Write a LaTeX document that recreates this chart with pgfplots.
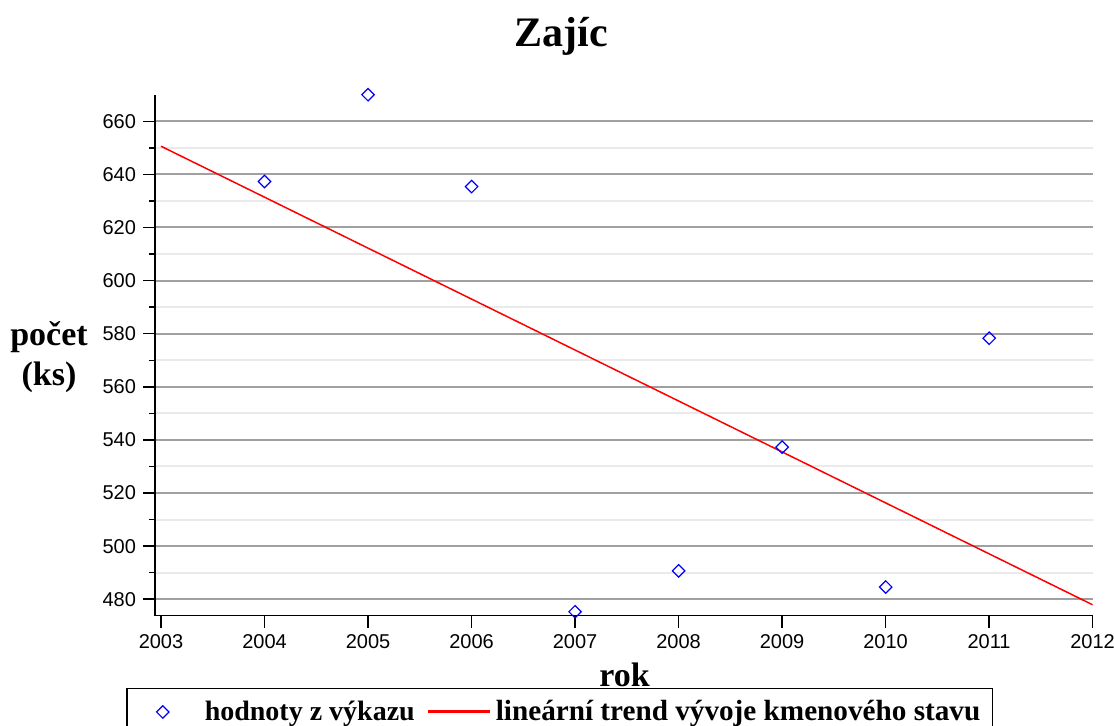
\documentclass[border=0pt]{standalone}
\usepackage{fontspec}
\setmainfont{Liberation Serif}
\setsansfont{Liberation Sans}
\usepackage{pgfplots}
\pgfplotsset{compat=1.18}
\definecolor{mkblue}{RGB}{0,0,255}
\definecolor{trendred}{RGB}{255,0,0}
\definecolor{majgrid}{RGB}{160,160,160}
\definecolor{mingrid}{RGB}{234,234,234}
\begin{document}
\begin{tikzpicture}
\begin{axis}[
  at={(77.5pt,54.65pt)}, anchor=south west,
  scale only axis, width=468.85pt, height=260.5pt,
  xmin=2002.942, xmax=2012, ymin=473.8, ymax=670,
  axis x line*=bottom, axis y line*=left,
  axis line style={line width=0.75pt,-},
  xtick={2003,2004,...,2012}, ytick={480,500,...,660},
  minor x tick num=1, minor y tick num=1,
  tick align=outside, major tick length=6pt, minor tick length=3pt,
  tick style={black, line width=0.75pt},
  ymajorgrids=true, yminorgrids=true,
  major grid style={majgrid, line width=1pt},
  minor grid style={mingrid, line width=1pt},
  /pgf/number format/assume math mode=true,
  /pgf/number format/1000 sep={},
  ticklabel style={font=\sffamily\fontsize{10}{12}\selectfont},
  title={Zajíc},
  title style={at={(axis description cs:0.433,1.069)}, anchor=base, font=\bfseries\fontsize{21}{25}\selectfont},
  xlabel={rok},
  xlabel style={at={(axis description cs:0.5007,-0.135)}, anchor=base, font=\bfseries\fontsize{17}{20}\selectfont},
  ylabel={počet\\(ks)},
  ylabel style={rotate=-90, at={(axis description cs:-0.113,0.4965)}, anchor=center, align=center, font=\bfseries\fontsize{17}{20}\selectfont},
  legend columns=2,
  legend style={at={(axis description cs:-0.0309,-0.1379)}, anchor=north west,
    draw=black, line width=0.75pt, font=\bfseries\fontsize{14}{16}\selectfont,
    inner xsep=4pt, inner ysep=4pt,
    /tikz/every even column/.append style={column sep=4pt}},
]
\addplot[only marks, mark=square, mark size=2.2pt, color=mkblue, mark options={line width=0.6pt, rotate=45},
  legend image code/.code={\path[draw=none] (0pt,0pt) rectangle (33pt,0pt);
    \draw[draw=none] plot[only marks, mark=square, mark size=2.2pt, mark options={draw=mkblue, line width=0.6pt, rotate=45}] coordinates {(14pt,0pt)};}]
  coordinates {(2004,637.3) (2005,670.0) (2006,635.4) (2007,475.3) (2008,490.7) (2009,537.3) (2010,484.6) (2011,578.3)};
\addlegendentry{hodnoty z výkazu}
\addplot[color=trendred, line width=0.75pt,
  legend image code/.code={\draw[line width=1.5pt] (0pt,0pt) -- (31pt,0pt);}]
  coordinates {(2003,650.6) (2012,477.9)};
\addlegendentry{\fontsize{14.6}{16}\selectfont lineární trend vývoje kmenového stavu}
\end{axis}
\pgfresetboundingbox
\useasboundingbox (0,0) rectangle (557pt,362.5pt);
\end{tikzpicture}
\end{document}
